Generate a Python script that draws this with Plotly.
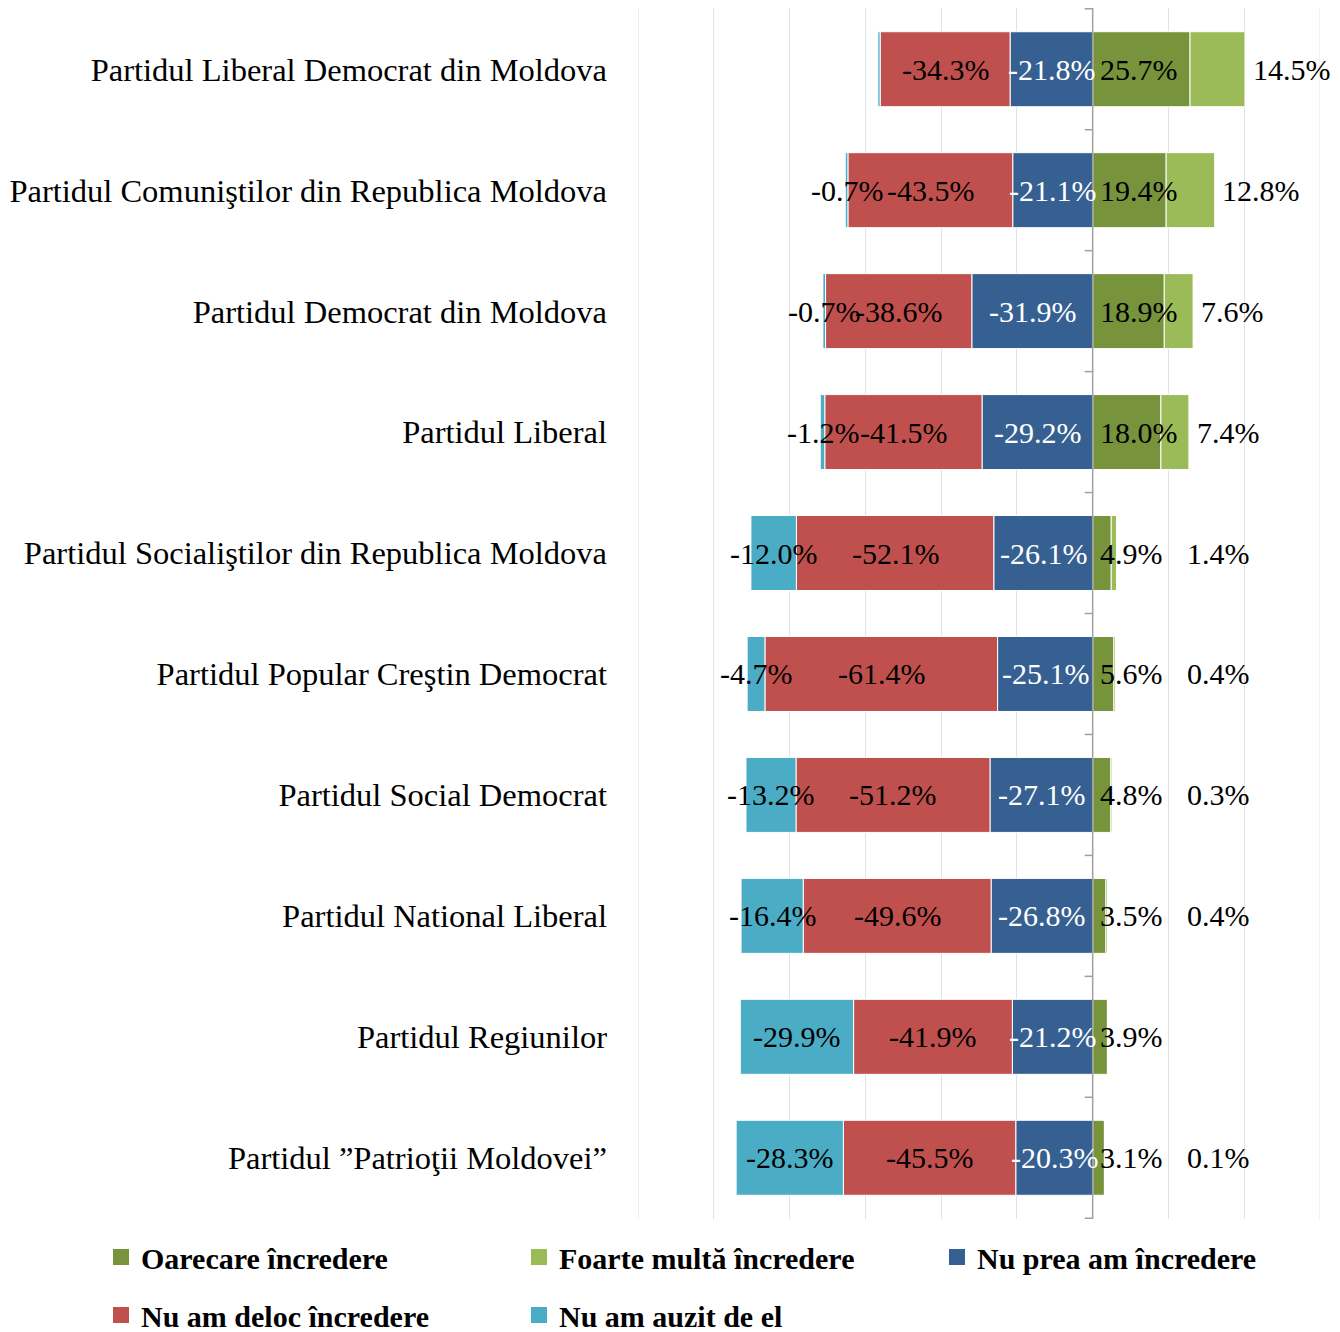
import plotly.graph_objects as go

parties = [
    "Partidul Liberal Democrat din Moldova",
    "Partidul Comuniştilor din Republica Moldova",
    "Partidul Democrat din Moldova",
    "Partidul Liberal",
    "Partidul Socialiştilor din Republica Moldova",
    "Partidul Popular Creştin Democrat",
    "Partidul Social Democrat",
    "Partidul National Liberal",
    "Partidul Regiunilor",
    "Partidul ”Patrioţii Moldovei”",
]

oarecare = [25.7, 19.4, 18.9, 18.0, 4.9, 5.6, 4.8, 3.5, 3.9, 3.1]
foarte = [14.5, 12.8, 7.6, 7.4, 1.4, 0.4, 0.3, 0.4, None, 0.1]
nu_prea = [-21.8, -21.1, -31.9, -29.2, -26.1, -25.1, -27.1, -26.8, -21.2, -20.3]
deloc = [-34.3, -43.5, -38.6, -41.5, -52.1, -61.4, -51.2, -49.6, -41.9, -45.5]
auzit = [-0.6, -0.7, -0.7, -1.2, -12.0, -4.7, -13.2, -16.4, -29.9, -28.3]
auzit_label_shown = [False, True, True, True, True, True, True, True, True, True]

x_range = [-120, 60]
x_step = 20

names = {
    "oarecare": "Oarecare încredere",
    "foarte": "Foarte multă încredere",
    "nu_prea": "Nu prea am încredere",
    "deloc": "Nu am deloc încredere",
    "auzit": "Nu am auzit de el",
}
colors = {
    "oarecare": "#77933C",
    "foarte": "#9BBB59",
    "nu_prea": "#376092",
    "deloc": "#C0504D",
    "auzit": "#4BACC6",
}

FONT = "Liberation Serif"
GRID = "#DCE3EC"

fig = go.Figure()

series = [("oarecare", oarecare), ("foarte", foarte), ("nu_prea", nu_prea),
          ("deloc", deloc), ("auzit", auzit)]
for key, vals in series:
    fig.add_trace(go.Bar(
        y=parties, x=[v if v is not None else 0 for v in vals], orientation="h",
        name=names[key], marker=dict(color=colors[key], line=dict(color="white", width=1)),
        showlegend=False, hoverinfo="x+y",
    ))

# legend-only entries (larger square symbols)
for i, (key, _) in enumerate(series):
    fig.add_trace(go.Scatter(
        x=[None], y=[None], mode="markers", name=names[key],
        marker=dict(symbol="square", size=16, color=colors[key]),
        legend="legend" if i < 3 else "legend2",
    ))

ann = []
LS = 30
lab_font = dict(family=FONT, size=LS, color="black")
for i, p in enumerate(parties):
    b = nu_prea[i]
    ann.append(dict(x=b / 2, y=p, text=f"{b:.1f}%", showarrow=False,
                    font=dict(family=FONT, size=LS, color="white")))
    r = deloc[i]
    ann.append(dict(x=b + r / 2, y=p, text=f"{r:.1f}%", showarrow=False, font=lab_font))
    c = auzit[i]
    if auzit_label_shown[i]:
        ann.append(dict(x=b + r + c / 2, y=p, text=f"{c:.1f}%", showarrow=False, font=lab_font))
    g = oarecare[i]
    ann.append(dict(x=0, y=p, text=f"{g:.1f}%", showarrow=False, font=lab_font,
                    xanchor="left", xshift=5))
    f = foarte[i]
    if f is not None:
        ann.append(dict(x=max(g + f + 1.5, 24.5), y=p, text=f"{f:.1f}%", showarrow=False,
                        font=lab_font, xanchor="left"))

shapes = []
# gridlines at the range edges (plotly clips those)
for xv in x_range:
    shapes.append(dict(type="line", xref="x", yref="paper", x0=xv, x1=xv, y0=0, y1=1,
                       line=dict(color=GRID, width=1), layer="below"))
# category-boundary ticks on the zero axis
for k in range(len(parties) + 1):
    shapes.append(dict(type="line", xref="x", yref="y", xsizemode="pixel", xanchor=0,
                       x0=-8, x1=0, y0=k - 0.5, y1=k - 0.5,
                       line=dict(color="#A0A0A0", width=1.5), layer="above"))
shapes.append(dict(type="line", xref="x", yref="paper", x0=0, x1=0, y0=0, y1=1,
                   line=dict(color="#A0A0A0", width=1.5), layer="above"))

leg_font = dict(family=FONT, size=30, color="black", weight="bold")
fig.update_layout(
    width=1340, height=1332,
    margin=dict(l=638, r=20, t=8, b=113, autoexpand=False),
    paper_bgcolor="white", plot_bgcolor="white",
    barmode="relative", bargap=0.38,
    font=dict(family=FONT, color="black"),
    annotations=ann, shapes=shapes,
    xaxis=dict(range=x_range, dtick=x_step, tick0=0, showgrid=True, gridcolor=GRID,
               gridwidth=1, showticklabels=False, zeroline=False, showline=False, ticks=""),
    yaxis=dict(type="category", categoryorder="array", categoryarray=parties,
               autorange="reversed", showgrid=False, showline=False, ticks="",
               tickfont=dict(family=FONT, size=32.5, color="black"), ticklabelstandoff=30),
    legend=dict(orientation="h", x=(101 - 638) / 682, xanchor="left",
                y=-(1231 - 1219) / 1211, yanchor="top", font=leg_font,
                entrywidth=373, entrywidthmode="pixels", bgcolor="rgba(0,0,0,0)"),
    legend2=dict(orientation="h", x=(101 - 638) / 682, xanchor="left",
                 y=-(1289 - 1219) / 1211, yanchor="top", font=leg_font,
                 entrywidth=373, entrywidthmode="pixels", bgcolor="rgba(0,0,0,0)"),
)

fig.write_html("out.html", config={"displayModeBar": False},
               post_script="document.body.style.margin='0px';document.body.style.overflow='hidden';")
